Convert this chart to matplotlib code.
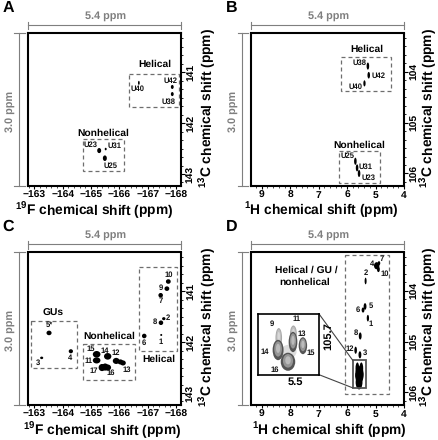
import matplotlib
matplotlib.use("Agg")
import matplotlib.pyplot as plt
from matplotlib.patches import Ellipse, Rectangle
from matplotlib.ticker import MultipleLocator

plt.rcParams['font.family'] = ['Liberation Sans', 'DejaVu Sans']
plt.rcParams['font.weight'] = 'bold'
plt.rcParams['text.hinting'] = 'no_hinting'
plt.rcParams['mathtext.fontset'] = 'custom'
plt.rcParams['mathtext.bf'] = 'Liberation Sans:bold'
plt.rcParams['mathtext.rm'] = 'Liberation Sans:bold'
plt.rcParams['mathtext.default'] = 'bf'

W, H = 438, 440

# peaks: x ppm, y ppm, width ppm, height ppm
a_x = [-166.69, -167.87, -167.87, -165.29, -165.52, -165.49]
a_y = [141.21, 141.29, 141.43, 142.54, 142.51, 142.69]
a_w = [0.06, 0.10, 0.10, 0.14, 0.07, 0.14]
a_h = [0.08, 0.08, 0.08, 0.10, 0.05, 0.11]

b_x = [5.27, 5.24, 5.39, 5.71, 5.65, 5.58]
b_y = [103.89, 104.07, 104.23, 105.76, 105.89, 106.00]
b_w = [0.09, 0.09, 0.08, 0.09, 0.09, 0.09]
b_h = [0.14, 0.13, 0.12, 0.14, 0.14, 0.14]

c_x = [-167.73, -167.68, -167.46, -167.57, -167.47, -167.48, -166.88, -163.52, -164.29, -163.26,
       -165.20, -165.59, -165.89, -166.04, -166.13, -165.20, -165.39, -165.50, -165.59]
c_y = [140.81, 140.95, 141.08, 141.54, 141.62, 141.86, 141.88, 141.82, 142.18, 142.31,
       142.24, 142.28, 142.37, 142.39, 142.41, 142.36, 142.50, 142.49, 142.50]
c_w = [0.17, 0.17, 0.16, 0.12, 0.16, 0.07, 0.16, 0.18, 0.15, 0.11,
       0.27, 0.26, 0.24, 0.20, 0.20, 0.27, 0.24, 0.24, 0.24]
c_h = [0.09, 0.09, 0.09, 0.06, 0.09, 0.04, 0.09, 0.09, 0.08, 0.05,
       0.13, 0.13, 0.12, 0.10, 0.10, 0.12, 0.14, 0.14, 0.12]

d_x = [4.88, 4.96, 4.90, 5.35, 5.44, 5.37, 5.27, 5.54, 5.70, 5.55, 5.64, 5.50, 5.57, 5.58, 5.53]
d_y = [103.46, 103.51, 103.58, 103.81, 104.38, 104.31, 104.54, 104.89, 105.17, 105.26, 105.53, 105.53, 105.66, 105.80, 105.62]
d_w = [0.09, 0.19, 0.10, 0.07, 0.10, 0.10, 0.08, 0.10, 0.09, 0.10, 0.13, 0.13, 0.30, 0.24, 0.20]
d_h = [0.08, 0.14, 0.11, 0.13, 0.10, 0.13, 0.13, 0.14, 0.14, 0.14, 0.24, 0.24, 0.32, 0.28, 0.30]

# inset blobs of panel D
in_x = [5.645, 5.65, 5.534, 5.537, 5.462, 5.575]
in_y = [105.58, 105.686, 105.544, 105.615, 105.648, 105.79]
in_w = [0.05, 0.083, 0.052, 0.066, 0.064, 0.11]
in_h = [0.177, 0.18, 0.15, 0.18, 0.15, 0.16]
in_dark = [0, 1, 0, 1, 1, 1]
haze_x = 5.57
haze_y = 105.70

# dashed boxes x0, x1, y0, y1
a_boxes = [(-166.35, -168.09, 141.03, 141.69), (-164.72, -166.18, 142.32, 142.95)]
b_boxes = [(6.21, 4.47, 103.71, 104.37), (6.30, 4.83, 105.56, 106.18)]
c_boxes = [(-166.70, -168.02, 140.52, 142.18), (-162.90, -164.51, 141.59, 142.51), (-164.71, -166.54, 142.03, 142.75)]
d_boxes = [(6.09, 4.53, 103.30, 106.03)]

# big labels and small peak labels
a_big = [("Helical", -167.26, 140.84), ("Nonhelical", -165.45, 142.21)]
a_small = [("U42", -167.80, 141.18), ("U40", -166.65, 141.33), ("U38", -167.73, 141.58),
           ("U23", -164.98, 142.43), ("U31", -165.84, 142.45), ("U25", -165.70, 142.84)]
b_big = [("Helical", 5.32, 103.56), ("Nonhelical", 5.56, 105.45)]
b_small = [("U38", 5.56, 103.83), ("U42", 4.90, 104.08), ("U40", 5.70, 104.30),
           ("U25", 5.99, 105.66), ("U31", 5.34, 105.86), ("U23", 5.24, 106.09)]
c_big = [("GUs", -163.68, 141.43), ("Nonhelical", -165.63, 141.88), ("Helical", -167.40, 142.33)]
c_small = [("10", -167.74, 140.67), ("9", -167.47, 140.93), ("7", -167.46, 141.20), ("2", -167.73, 141.52),
           ("8", -167.26, 141.61), ("1", -167.47, 141.99), ("6", -166.85, 142.01), ("5*", -163.53, 141.67),
           ("4", -164.27, 142.31), ("3", -163.14, 142.41), ("15", -164.98, 142.13), ("14", -165.49, 142.17),
           ("12", -165.89, 142.22), ("13", -166.27, 142.54), ("11", -164.90, 142.37), ("17", -165.10, 142.56),
           ("16", -165.71, 142.61)]
d_big = [("Helical / GU /", 7.42, 103.60), ("nonhelical", 7.50, 103.83)]
d_small = [("7", 4.78, 103.37), ("4", 5.14, 103.47), ("10", 4.68, 103.66), ("2", 5.35, 103.66),
           ("6", 5.64, 104.38), ("5", 5.18, 104.30), ("1", 5.17, 104.65), ("8", 5.70, 104.83),
           ("12", 5.92, 105.14), ("3", 5.37, 105.22)]
in_small = [("9", 5.70, 105.456), ("11", 5.51, 105.41), ("13", 5.47, 105.54),
            ("15", 5.40, 105.715), ("14", 5.75, 105.705), ("16", 5.675, 105.86)]

f_ticks = [-163, -164, -165, -166, -167, -168]
h_ticks = [9, 8, 7, 6, 5, 4]
c_ticks = [141, 142, 143]
hc_ticks = [104, 105, 106]
GREY = '#7f7f7f'

fig = plt.figure(figsize=(W / 100, H / 100), dpi=100)


def make_panel(left, top, letter, xlim, ylim, xticks, yticks, xlabel, xlab_x, xlab_y, ylab_x):
    ax = fig.add_axes([left / W, 1 - (top + 152.7) / H, 153 / W, 152.7 / H])
    ax.set_xlim(xlim)
    ax.set_ylim(ylim)
    ax.set_xticks(xticks)
    ax.set_yticks(yticks)
    ax.xaxis.set_minor_locator(MultipleLocator(0.2))
    ax.yaxis.set_minor_locator(MultipleLocator(1 / 6))
    ax.yaxis.tick_right()
    ax.tick_params(axis='x', labelsize=7.4, length=2.5, width=0.8, pad=1)
    ax.tick_params(axis='y', labelsize=7.4, length=3, width=0.8, pad=1, labelrotation=90)
    ax.tick_params(axis='x', which='minor', length=1.3, width=0.5)
    ax.tick_params(axis='y', which='minor', length=1.5, width=0.6)
    for t in ax.get_yticklabels():
        t.set_va('center')
    for s in ax.spines.values():
        s.set_linewidth(1.5)
    fig.text(xlab_x / W, 1 - xlab_y / H, xlabel, fontsize=9.9, ha='center', va='baseline')
    fig.text(ylab_x / W, 1 - (top + 75) / H, '$^{13}$C chemical shift (ppm)', fontsize=9.9, rotation=90,
             ha='center', va='baseline', rotation_mode='anchor')
    fig.text((left - 25) / W, 1 - (top - 26) / H, letter, fontsize=11.5, ha='left', va='center')
    # 5.4 ppm and 3.0 ppm brackets
    yb = top - 8
    fig.add_artist(plt.Line2D([left / W, (left + 153) / W], [1 - yb / H] * 2, color=GREY, lw=0.8))
    for xe in (left, left + 153):
        fig.add_artist(plt.Line2D([xe / W] * 2, [1 - (yb - 3.5) / H, 1 - (yb + 4) / H], color=GREY, lw=0.8))
    fig.text((left + 78) / W, 1 - (top - 17.5) / H, '5.4 ppm', color=GREY, fontsize=7.8, ha='center', va='center')
    xb = left - 8.5
    fig.add_artist(plt.Line2D([xb / W] * 2, [1 - top / H, 1 - (top + 152.7) / H], color=GREY, lw=0.8))
    for ye in (top, top + 152.7):
        fig.add_artist(plt.Line2D([(xb - 5) / W, (xb + 5.5) / W], [1 - ye / H] * 2, color=GREY, lw=0.8))
    fig.text((left - 18) / W, 1 - (top + 78) / H, '3.0 ppm', color=GREY, fontsize=7.8, rotation=90,
             ha='center', va='center')
    return ax


def draw_peaks(ax, xs, ys, ws, hs):
    for x, y, w, h in zip(xs, ys, ws, hs):
        ax.add_patch(Ellipse((x, y), w, h, color='black', lw=0))


def draw_boxes(ax, boxes):
    for x0, x1, y0, y1 in boxes:
        ax.add_patch(Rectangle((x0, y0), x1 - x0, y1 - y0, fill=False, ec='#6e6e6e', lw=0.9,
                               ls=(0, (3.2, 2.4))))


def draw_labels(ax, big, small):
    for s, x, y in big:
        ax.text(x, y, s, fontsize=7.4, ha='center', va='center')
    for s, x, y in small:
        ax.text(x, y, s, fontsize=5.5, ha='center', va='center', color='#111111')


ax_a = make_panel(27.5, 33.5, 'A', (-162.76, -168.16), (143.24, 140.24), f_ticks, c_ticks,
                  '$^{19}$F chemical shift (ppm)', 94, 214.5, 212)
draw_boxes(ax_a, a_boxes)
draw_peaks(ax_a, a_x, a_y, a_w, a_h)
draw_labels(ax_a, a_big, a_small)

ax_b = make_panel(251, 33.5, 'B', (9.38, 4.0), (106.25, 103.25), h_ticks, hc_ticks,
                  '$^{1}$H chemical shift (ppm)', 321, 214.5, 433)
draw_boxes(ax_b, b_boxes)
draw_peaks(ax_b, b_x, b_y, b_w, b_h)
draw_labels(ax_b, b_big, b_small)

ax_c = make_panel(27.5, 252.5, 'C', (-162.76, -168.16), (143.24, 140.24), f_ticks, c_ticks,
                  '$^{19}$F chemical shift (ppm)', 102, 435, 212)
draw_boxes(ax_c, c_boxes)
draw_peaks(ax_c, c_x, c_y, c_w, c_h)
draw_labels(ax_c, c_big, c_small)

ax_d = make_panel(251, 252.5, 'D', (9.38, 4.0), (106.25, 103.25), h_ticks, hc_ticks,
                  '$^{1}$H chemical shift (ppm)', 329, 435, 433)
draw_boxes(ax_d, d_boxes)
draw_peaks(ax_d, d_x, d_y, d_w, d_h)
draw_labels(ax_d, d_big, d_small)

# zoom box and inset of panel D
ax_d.add_patch(Rectangle((5.80, 105.37), 5.34 - 5.80, 105.91 - 105.37, fill=False, ec='#555555', lw=1.3))
ax_d.plot([6.99, 5.80], [104.455, 105.37], color='#444444', lw=0.8)
ax_d.plot([6.99, 5.80], [105.65, 105.91], color='#444444', lw=0.8)
ins = fig.add_axes([258.3 / W, 1 - 375.3 / H, 60.7 / W, 61 / H])
ins.set_xlim(5.80, 5.34)
ins.set_ylim(105.91, 105.37)
ins.set_xticks([])
ins.set_yticks([])
for s in ins.spines.values():
    s.set_linewidth(1.2)
ins.add_patch(Ellipse((haze_x, haze_y), 0.12, 0.12, color='#dddddd', lw=0))
# contour-like shading: outer rim, then lighter rings
for x, y, w, h, dark in zip(in_x, in_y, in_w, in_h, in_dark):
    rim = '#555555' if dark else '#a8a8a8'
    ins.add_patch(Ellipse((x, y), w, h, color=rim, lw=0))
    ins.add_patch(Ellipse((x, y - h * 0.05), w * 0.7, h * 0.75, color='#959595' if dark else '#c0c0c0', lw=0))
    ins.add_patch(Ellipse((x, y - h * 0.08), w * 0.38, h * 0.45, color='#bbbbbb' if dark else '#d8d8d8', lw=0))
for s, x, y in in_small:
    ins.text(x, y, s, fontsize=5.5, ha='center', va='center', color='#111111')
ax_d.text(7.82, 105.79, '5.5', fontsize=8, ha='center', va='center')
ax_d.text(6.65, 104.90, '105.7', fontsize=8, rotation=90, ha='center', va='center')

fig.savefig('out.png', dpi=100)
